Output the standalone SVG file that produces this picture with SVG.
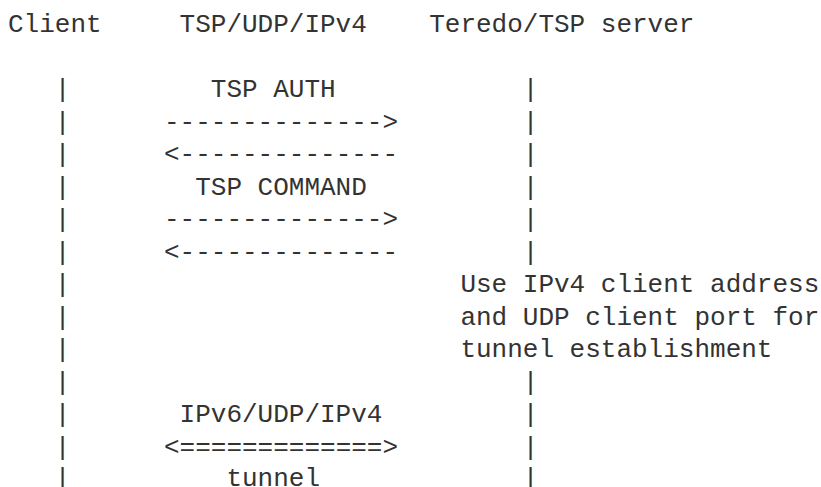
<svg xmlns="http://www.w3.org/2000/svg" width="821" height="487" viewBox="0 0 821 487">
<style>
text{font-family:"Liberation Mono","DejaVu Sans Mono",monospace;font-size:26px;fill:#333;white-space:pre}
</style>
<rect width="821" height="487" fill="#fff"/>
<g id="client">
<text x="8" y="32">Client</text>
<text x="54.8" y="97">|</text><text x="54.8" y="129.5">|</text><text x="54.8" y="162">|</text><text x="54.8" y="194.5">|</text><text x="54.8" y="227">|</text><text x="54.8" y="259.5">|</text><text x="54.8" y="292">|</text><text x="54.8" y="324.5">|</text><text x="54.8" y="357">|</text><text x="54.8" y="389.5">|</text><text x="54.8" y="422">|</text><text x="54.8" y="454.5">|</text><text x="54.8" y="486">|</text>
</g>
<g id="protocol">
<text x="179.6" y="32">TSP/UDP/IPv4</text>
</g>
<g id="server">
<text x="429.2" y="32">Teredo/TSP server</text>
<text x="522.8" y="97">|</text><text x="522.8" y="129.5">|</text><text x="522.8" y="162">|</text><text x="522.8" y="194.5">|</text><text x="522.8" y="227">|</text><text x="522.8" y="259.5">|</text>
<text x="460.4" y="292">Use IPv4 client address</text>
<text x="460.4" y="324.5">and UDP client port for</text>
<text x="460.4" y="357">tunnel establishment</text>
<text x="522.8" y="389.5">|</text><text x="522.8" y="422">|</text><text x="522.8" y="454.5">|</text><text x="522.8" y="486">|</text>
</g>
<g id="connectors">
<text x="210.8" y="97">TSP AUTH</text>
<text x="164" y="129.5">--------------&gt;</text>
<text x="164" y="162">&lt;--------------</text>
<text x="195.2" y="194.5">TSP COMMAND</text>
<text x="164" y="227">--------------&gt;</text>
<text x="164" y="259.5">&lt;--------------</text>
<text x="179.6" y="422">IPv6/UDP/IPv4</text>
<text x="164" y="454.5">&lt;=============&gt;</text>
<text x="226.4" y="486">tunnel</text>
</g>
</svg>
